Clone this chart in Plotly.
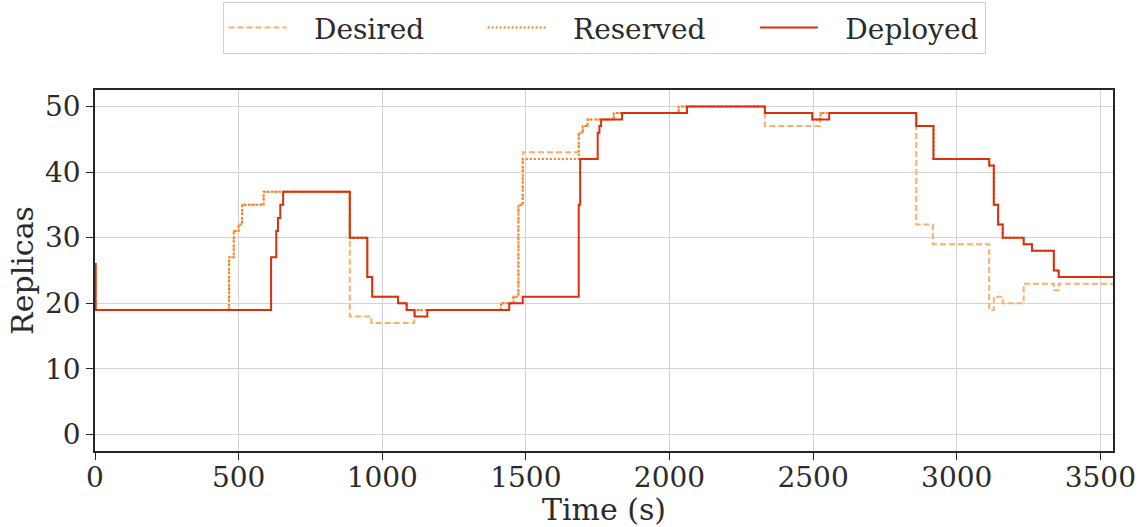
import plotly.graph_objects as go

# ---- data (time in seconds, replica counts), step series ----
desired_t = [0, 2, 467, 483, 500, 512, 587, 887, 962, 1111, 1413, 1457, 1474, 1489,
             1684, 1698, 1715, 1806, 2032, 2332, 2524, 2859, 2917, 3113, 3129, 3160,
             3233, 3338, 3355, 3544]
desired_v = [26, 19, 27, 31, 32, 35, 37, 18, 17, 19, 20, 21, 35, 43,
             46, 47, 48, 49, 50, 47, 49, 32, 29, 19, 21, 20,
             23, 22, 23, 23]

reserved_t = [0, 2, 467, 483, 500, 512, 587, 887, 948, 965, 1055, 1085, 1413, 1457,
              1474, 1489, 1684, 1698, 1715, 1806, 2032, 2332, 2497, 2526, 2859, 2919,
              3113, 3129, 3144, 3160, 3233, 3262, 3338, 3355, 3544]
reserved_v = [26, 19, 27, 31, 32, 35, 37, 30, 24, 21, 20, 19, 20, 21,
              35, 42, 46, 47, 48, 49, 50, 49, 48, 49, 47, 42,
              41, 35, 32, 30, 29, 28, 25, 24, 24]

deployed_t = [0, 2, 613, 631, 637, 645, 655, 887, 948, 965, 1055, 1085, 1113, 1157,
              1442, 1489, 1684, 1689, 1750, 1756, 1762, 1835, 2061, 2332, 2497, 2556,
              2859, 2919, 3113, 3129, 3144, 3160, 3233, 3262, 3338, 3355, 3544]
deployed_v = [26, 19, 27, 31, 33, 35, 37, 30, 24, 21, 20, 19, 18, 19,
              20, 21, 35, 42, 46, 47, 48, 49, 50, 49, 48, 49,
              47, 42, 41, 35, 32, 30, 29, 28, 25, 24, 24]

series_names = ["Desired", "Reserved", "Deployed"]
x_ticks = [0, 500, 1000, 1500, 2000, 2500, 3000, 3500]
y_ticks = [0, 10, 20, 30, 40, 50]

FONT = "DejaVu Serif"
TXT = "#2b2b2b"
NB = "\u00a0"
LEAD = NB * 2 + "\u2006"

def legend_label(name, trailing):
    return LEAD + name + NB * trailing

fig = go.Figure()
fig.add_trace(go.Scatter(x=desired_t, y=desired_v, mode="lines", name=legend_label(series_names[0], 6),
                         line=dict(shape="hv", color="#fdae6b", width=2, dash="6px,3px")))
fig.add_trace(go.Scatter(x=reserved_t, y=reserved_v, mode="lines", name=legend_label(series_names[1], 5),
                         line=dict(shape="hv", color="#f57c1f", width=2, dash="2px,2px")))
fig.add_trace(go.Scatter(x=deployed_t, y=deployed_v, mode="lines", name=legend_label(series_names[2], 0),
                         line=dict(shape="hv", color="#dc2f0c", width=2)))

axis_common = dict(showline=True, linecolor="#262626", linewidth=1.5, mirror=True,
                   ticks="outside", ticklen=7, tickwidth=1.2, tickcolor="#262626",
                   showgrid=True, gridcolor="#d3d3d3", gridwidth=1, zeroline=False,
                   automargin=False,
                   tickfont=dict(family=FONT, size=28, color=TXT))

fig.update_xaxes(range=[0, 3544], tickvals=x_ticks, ticklabelstandoff=-6,
                 title=dict(text="Time (s)", font=dict(family=FONT, size=30, color=TXT), standoff=2),
                 **axis_common)
fig.update_yaxes(range=[-2.5, 52.5], tickvals=y_ticks,
                 title=dict(text="Replicas", font=dict(family=FONT, size=30, color=TXT), standoff=3),
                 **axis_common)

fig.update_layout(
    width=1141, height=527,
    margin=dict(l=95, r=28, t=90, b=76, autoexpand=False),
    plot_bgcolor="white", paper_bgcolor="white",
    font=dict(family=FONT, color=TXT),
    legend=dict(orientation="h", x=0.5, xanchor="center", y=1.244, yanchor="top",
                font=dict(family=FONT, size=28, color=TXT),
                bordercolor="#d0d0d0", borderwidth=1, bgcolor="white",
                itemwidth=58),
    showlegend=True,
)

fig.write_html("out.html")
